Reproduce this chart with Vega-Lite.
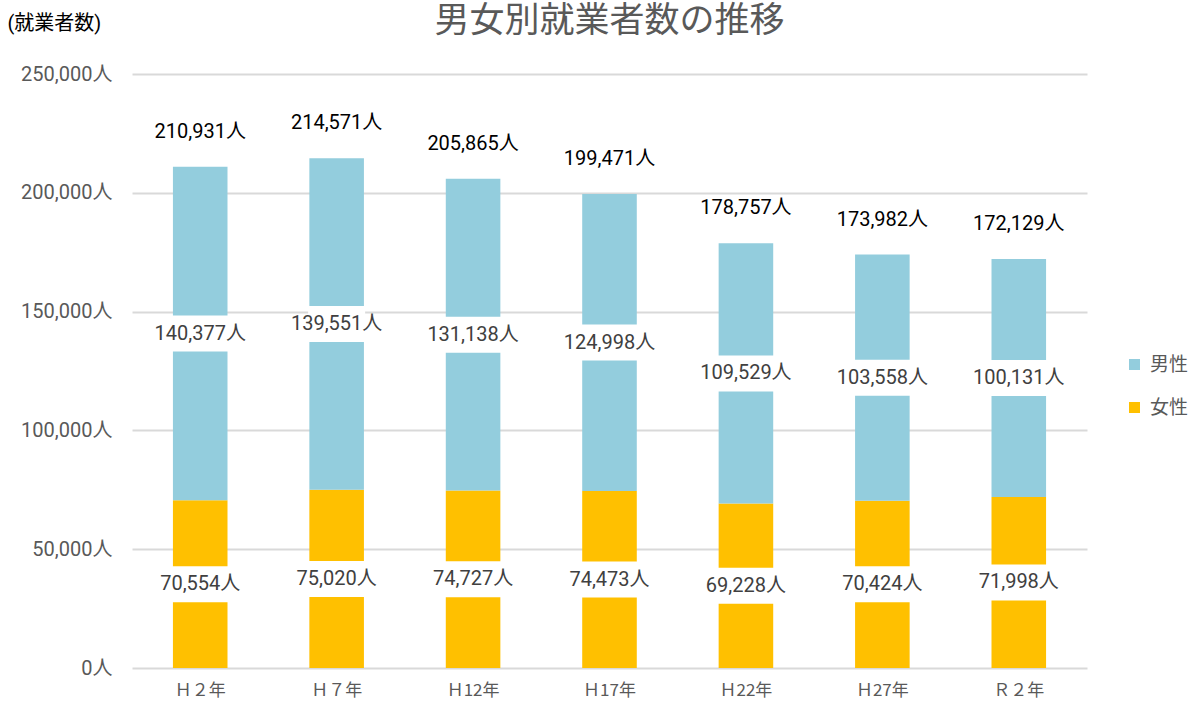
{
  "$schema": "https://vega.github.io/schema/vega-lite/v6.json",
  "width": 955,
  "height": 594,
  "autosize": {"type": "none"},
  "padding": {"left": 132, "top": 74, "right": 110, "bottom": 40},
  "background": "white",
  "config": {
    "font": "Roboto, 'Noto Sans CJK JP', sans-serif",
    "view": {"stroke": null}
  },
  "title": {
    "text": "男女別就業者数の推移",
    "font": "'Noto Sans CJK JP', sans-serif",
    "fontSize": 35,
    "fontWeight": "normal",
    "color": "#595959",
    "anchor": "middle",
    "frame": "group",
    "baseline": "middle",
    "offset": 0,
    "dy": 43
  },
  "datasets": {
    "seg": [
      {"year": "Ｈ２年", "sex": "女性", "value": 70554},
      {"year": "Ｈ２年", "sex": "男性", "value": 140377},
      {"year": "Ｈ７年", "sex": "女性", "value": 75020},
      {"year": "Ｈ７年", "sex": "男性", "value": 139551},
      {"year": "Ｈ12年", "sex": "女性", "value": 74727},
      {"year": "Ｈ12年", "sex": "男性", "value": 131138},
      {"year": "Ｈ17年", "sex": "女性", "value": 74473},
      {"year": "Ｈ17年", "sex": "男性", "value": 124998},
      {"year": "Ｈ22年", "sex": "女性", "value": 69228},
      {"year": "Ｈ22年", "sex": "男性", "value": 109529},
      {"year": "Ｈ27年", "sex": "女性", "value": 70424},
      {"year": "Ｈ27年", "sex": "男性", "value": 103558},
      {"year": "Ｒ２年", "sex": "女性", "value": 71998},
      {"year": "Ｒ２年", "sex": "男性", "value": 100131}
    ],
    "tot": [
      {"year": "Ｈ２年", "total": 210931},
      {"year": "Ｈ７年", "total": 214571},
      {"year": "Ｈ12年", "total": 205865},
      {"year": "Ｈ17年", "total": 199471},
      {"year": "Ｈ22年", "total": 178757},
      {"year": "Ｈ27年", "total": 173982},
      {"year": "Ｒ２年", "total": 172129}
    ]
  },
  "encoding": {
    "x": {
      "field": "year",
      "type": "nominal",
      "sort": ["Ｈ２年", "Ｈ７年", "Ｈ12年", "Ｈ17年", "Ｈ22年", "Ｈ27年", "Ｒ２年"],
      "scale": {"paddingInner": 0.6, "paddingOuter": 0.3},
      "axis": {
        "title": null,
        "labelAngle": 0,
        "labelFont": "'Noto Sans CJK JP', sans-serif",
        "labelFontSize": 17,
        "labelColor": "#595959",
        "labelPadding": 14,
        "ticks": false,
        "domain": false
      }
    }
  },
  "layer": [
    {
      "data": {"name": "seg"},
      "mark": {"type": "bar"},
      "encoding": {
        "y": {
          "field": "value",
          "type": "quantitative",
          "stack": "zero",
          "scale": {"domain": [0, 250000], "nice": false},
          "axis": {
            "title": "(就業者数)",
            "titleAngle": 0,
            "titleX": -125,
            "titleY": -51,
            "titleAlign": "left",
            "titleBaseline": "middle",
            "titleFontSize": 20,
            "titleFontWeight": "normal",
            "titleColor": "#000000",
            "values": [0, 50000, 100000, 150000, 200000, 250000],
            "labelExpr": "format(datum.value, ',') + '人'",
            "labelFontSize": 20,
            "labelColor": "#595959",
            "labelPadding": 20,
            "ticks": false,
            "domain": false,
            "gridColor": "#D9D9D9",
            "gridWidth": 2
          }
        },
        "color": {
          "field": "sex",
          "type": "nominal",
          "scale": {"domain": ["男性", "女性"], "range": ["#93CDDD", "#FFC000"]},
          "legend": {
            "orient": "none",
            "legendX": 993,
            "legendY": 281,
            "title": null,
            "symbolType": "square",
            "symbolSize": 121,
            "symbolStrokeWidth": 0,
            "labelFont": "'Noto Sans CJK JP', sans-serif",
            "labelFontSize": 19,
            "labelColor": "#595959",
            "labelOffset": 6,
            "rowPadding": 23
          }
        },
        "order": {"field": "sex", "sort": "ascending"}
      }
    },
    {
      "data": {"name": "seg"},
      "transform": [
        {"stack": "value", "groupby": ["year"], "sort": [{"field": "sex", "order": "ascending"}], "as": ["v0", "v1"]},
        {"calculate": "(datum.v0 + datum.v1) / 2", "as": "mid"},
        {"calculate": "format(datum.value, ',') + '人'", "as": "label"}
      ],
      "layer": [
        {
          "mark": {"type": "tick", "color": "white", "opacity": 1, "thickness": 36, "size": 57, "orient": "horizontal"},
          "encoding": {"y": {"field": "mid", "type": "quantitative"}}
        },
        {
          "mark": {"type": "text", "color": "#404040", "fontSize": 20, "baseline": "middle", "align": "center"},
          "encoding": {
            "y": {"field": "mid", "type": "quantitative"},
            "text": {"field": "label", "type": "nominal"}
          }
        }
      ]
    },
    {
      "data": {"name": "tot"},
      "transform": [
        {"calculate": "format(datum.total, ',') + '人'", "as": "label"}
      ],
      "mark": {"type": "text", "color": "#000000", "fontSize": 20, "baseline": "middle", "align": "center", "dy": -35},
      "encoding": {
        "y": {"field": "total", "type": "quantitative"},
        "text": {"field": "label", "type": "nominal"}
      }
    }
  ]
}
